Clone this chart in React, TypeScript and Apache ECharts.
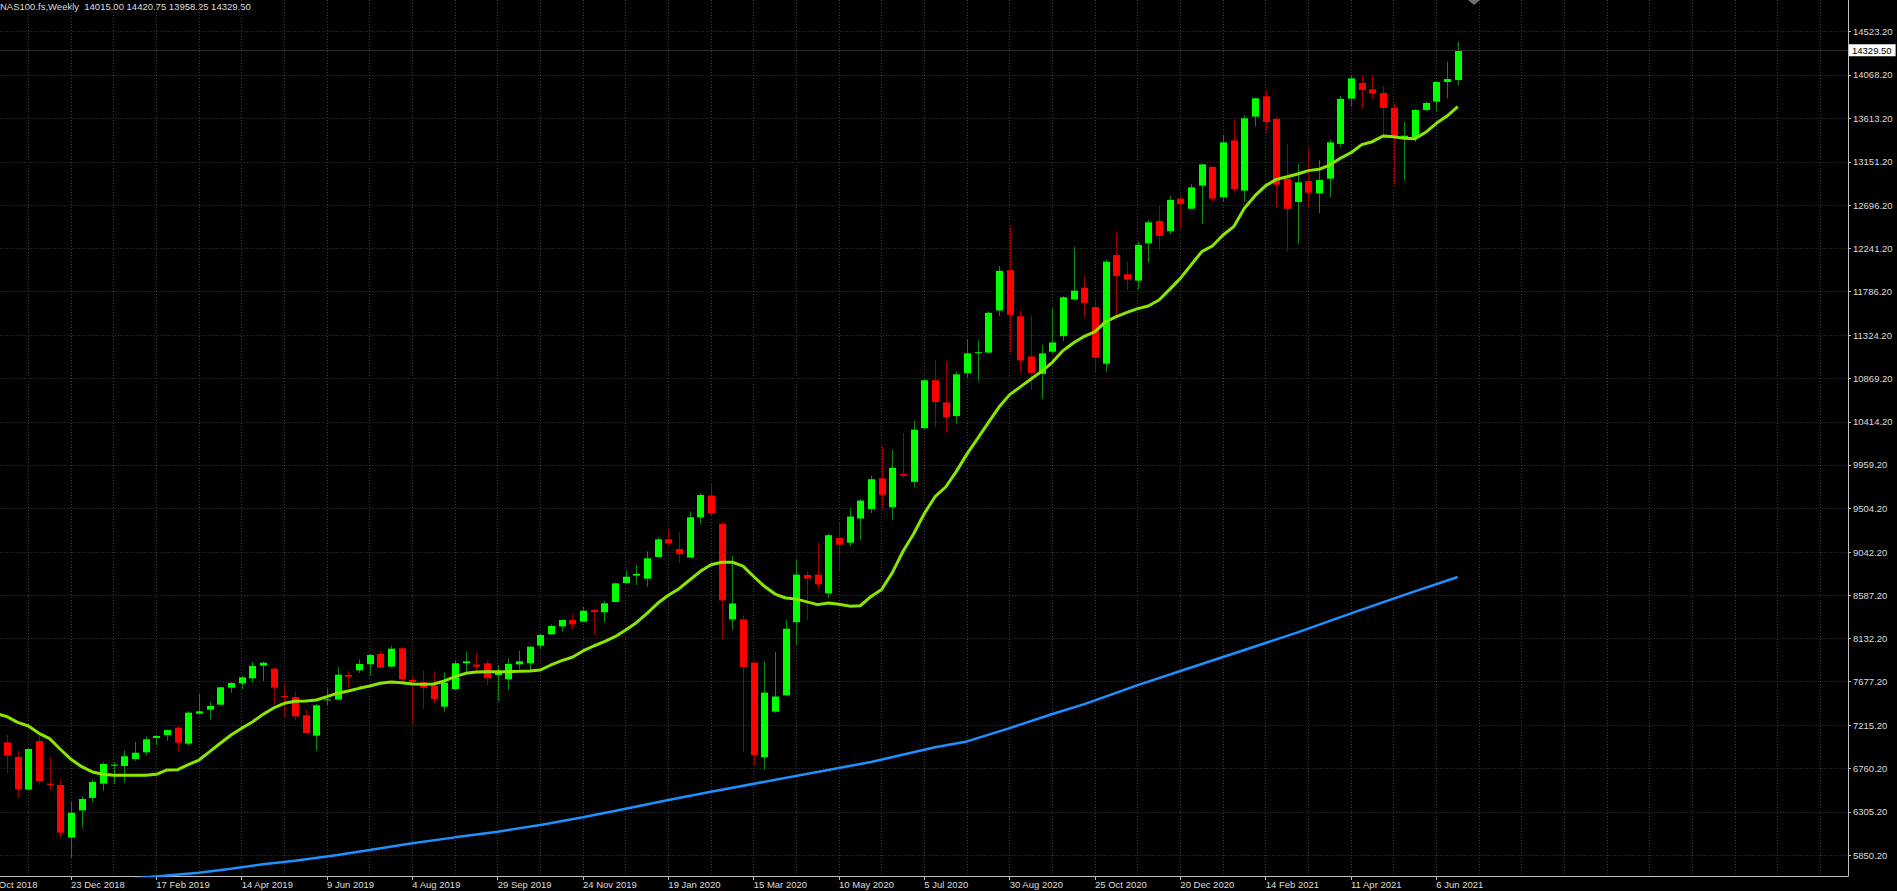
import React, { useEffect, useRef } from "react";
import * as echarts from "echarts";

// ---------- data ----------
const symbolTitle = "NAS100.fs,Weekly";
// week index 0 = week of 28 Oct 2018; x-axis labels every 8 weeks
const labelStep = 8;
const xTickLabels = [
  "28 Oct 2018", "23 Dec 2018", "17 Feb 2019", "14 Apr 2019", "9 Jun 2019", "4 Aug 2019",
  "29 Sep 2019", "24 Nov 2019", "19 Jan 2020", "15 Mar 2020", "10 May 2020", "5 Jul 2020",
  "30 Aug 2020", "25 Oct 2020", "20 Dec 2020", "14 Feb 2021", "11 Apr 2021", "6 Jun 2021",
];
const yTickLabels = [
  "5850.20", "6305.20", "6760.20", "7215.20", "7677.20", "8132.20", "8587.20", "9042.20",
  "9504.20", "9959.20", "10414.20", "10869.20", "11324.20", "11786.20", "12241.20",
  "12696.20", "13151.20", "13613.20", "14068.20", "14523.20",
];

// first candle = week of 11 Nov 2018 (week index 2); rows are [open, high, low, close]
const firstCandleWeek = 2;
const ohlc: number[][] = [
  [7037, 7114, 6711, 6897], [6883, 6946, 6454, 6542], [6539, 6975, 6530, 6967], [7051, 7107, 6591, 6630], [6601, 6883, 6542, 6588],
  [6588, 6640, 6033, 6086], [6033, 6409, 5822, 6296], [6321, 6468, 6138, 6440], [6451, 6647, 6405, 6619], [6602, 6826, 6525, 6809],
  [6791, 6826, 6595, 6802], [6788, 6953, 6612, 6890], [6862, 7041, 6841, 6928], [6932, 7097, 6897, 7069], [7083, 7114, 7009, 7104],
  [7114, 7174, 7055, 7167], [7192, 7216, 6939, 7034], [7023, 7364, 7002, 7350], [7339, 7546, 7332, 7364], [7381, 7459, 7276, 7420],
  [7434, 7624, 7431, 7617], [7613, 7673, 7560, 7662], [7659, 7736, 7599, 7722], [7711, 7887, 7669, 7841], [7845, 7887, 7683, 7876],
  [7813, 7824, 7434, 7613], [7525, 7645, 7297, 7515], [7515, 7571, 7269, 7311], [7322, 7381, 7132, 7136], [7107, 7438, 6946, 7427],
  [7483, 7603, 7427, 7490], [7487, 7831, 7480, 7750], [7747, 7792, 7606, 7729], [7796, 7912, 7768, 7863], [7859, 7971, 7740, 7957],
  [7968, 8003, 7821, 7824], [7835, 8056, 7824, 8024], [8028, 8042, 7677, 7701], [7694, 7747, 7227, 7670], [7670, 7792, 7389, 7613],
  [7634, 7785, 7448, 7494], [7413, 7775, 7361, 7666], [7599, 7901, 7589, 7870], [7870, 7993, 7764, 7891], [7856, 7982, 7782, 7835],
  [7870, 7898, 7641, 7712], [7747, 7852, 7473, 7771], [7701, 7926, 7585, 7863], [7859, 8000, 7806, 7891], [7870, 8049, 7799, 8045],
  [8056, 8182, 8017, 8168], [8175, 8280, 8168, 8263], [8259, 8333, 8203, 8326], [8326, 8386, 8231, 8280], [8308, 8463, 8301, 8424],
  [8431, 8442, 8168, 8410], [8407, 8530, 8298, 8502], [8516, 8719, 8512, 8712], [8716, 8842, 8712, 8782], [8793, 8909, 8695, 8811],
  [8761, 9049, 8677, 8976], [8990, 9197, 8983, 9176], [9176, 9288, 9109, 9134], [9074, 9250, 8923, 9018], [8983, 9471, 8978, 9408],
  [9408, 9660, 9334, 9643], [9637, 9760, 9411, 9448], [9338, 9358, 8119, 8533], [8332, 9001, 8226, 8500], [8332, 8373, 6937, 7832],
  [7877, 7890, 6800, 6904], [6880, 7889, 6750, 7561], [7360, 7987, 7347, 7520], [7532, 8324, 7530, 8234], [8303, 8964, 8065, 8804],
  [8800, 8845, 8324, 8763], [8804, 9141, 8652, 8702], [8607, 9235, 8558, 9219], [9190, 9346, 8845, 9120], [9141, 9506, 9104, 9416],
  [9395, 9600, 9165, 9584], [9494, 9846, 9453, 9809], [9818, 10158, 9494, 9645], [9514, 10113, 9379, 9929], [9863, 10298, 9818, 9846],
  [9781, 10425, 9727, 10331], [10347, 10860, 10339, 10852], [10852, 11061, 10355, 10622], [10618, 11057, 10298, 10462], [10474, 10946, 10396, 10914],
  [10926, 11287, 10877, 11135], [11139, 11275, 10844, 11147], [11143, 11578, 11140, 11562], [11587, 12054, 11529, 12005], [12013, 12473, 11143, 11541],
  [11525, 11587, 10930, 11061], [11102, 11537, 10745, 10930], [10918, 11225, 10655, 11135], [11152, 11611, 11135, 11250], [11316, 11738, 11266, 11726],
  [11702, 12256, 11693, 11796], [11826, 11951, 11510, 11667], [11623, 11697, 10942, 11090], [11026, 12125, 10942, 12101], [12171, 12417, 11521, 11950],
  [11968, 12101, 11802, 11911], [11901, 12312, 11809, 12277], [12294, 12540, 12090, 12515], [12529, 12687, 12224, 12371], [12421, 12796, 12389, 12751],
  [12765, 12786, 12459, 12708], [12659, 12919, 12656, 12884], [12902, 13130, 12498, 13126], [13098, 13112, 12740, 12765], [12779, 13428, 12730, 13358],
  [13379, 13600, 12828, 12867], [12849, 13643, 12730, 13611], [13629, 13829, 13523, 13822], [13843, 13906, 13467, 13572], [13604, 13629, 12663, 12912],
  [12975, 13341, 12210, 12659], [12730, 13130, 12284, 12937], [12951, 13299, 12680, 12828], [12821, 13172, 12610, 12961], [12975, 13390, 12779, 13358],
  [13341, 13846, 13306, 13815], [13818, 14068, 13734, 14032], [13983, 14060, 13706, 13909], [13917, 14068, 13815, 13871], [13878, 13952, 13435, 13720],
  [13723, 13769, 12912, 13421], [13411, 13576, 12955, 13428], [13404, 13709, 13362, 13699], [13699, 13786, 13688, 13773], [13787, 14004, 13688, 13994],
  [13994, 14208, 13822, 14025], [14015, 14420.75, 13958.25, 14329.5],
];

// fast moving average (yellow-green), one value per week starting at week index 1
const maFastStart = 1;
const maFast = [
  7340,
  7308, 7248, 7209, 7132, 7076, 6964, 6858, 6781, 6725, 6700,
  6690, 6690, 6690, 6690, 6700, 6746, 6749, 6802, 6851, 6939,
  7027, 7114, 7185, 7251, 7332, 7399, 7448, 7469, 7473, 7483,
  7518, 7555, 7578, 7606, 7631, 7659, 7673, 7666, 7652, 7649,
  7652, 7684, 7729, 7764, 7778, 7782, 7782, 7782, 7785, 7789,
  7799, 7852, 7898, 7933, 8000, 8052, 8098, 8150, 8221, 8298,
  8396, 8502, 8586, 8656, 8747, 8839, 8908, 8935, 8935, 8894,
  8784, 8681, 8599, 8558, 8546, 8517, 8488, 8504, 8492, 8472,
  8476, 8574, 8648, 8825, 9050, 9235, 9448, 9625, 9727, 9892,
  10076, 10240, 10405, 10569, 10700, 10782, 10864, 10946, 11041, 11164,
  11246, 11315, 11364, 11469, 11522, 11567, 11606, 11634, 11697, 11809,
  11925, 12066, 12206, 12266, 12382, 12470, 12663, 12796, 12902, 12968,
  12996, 13025, 13060, 13074, 13119, 13190, 13249, 13334, 13365, 13425,
  13418, 13400, 13397, 13464, 13558, 13635, 13734,
];

// slow moving average (blue), [week index, value]
const maSlow: [number, number][] = [
  [14, 5605], [20, 5664], [23, 5706], [26, 5752], [29, 5790], [33, 5850], [36, 5903],
  [40, 5973], [44, 6036], [48, 6096], [52, 6166], [56, 6247], [60, 6338], [64, 6430],
  [68, 6517], [83, 6830], [89, 6985], [92, 7047], [96, 7187], [100, 7335], [103, 7440],
  [108, 7640], [113, 7825], [118, 8010], [123, 8195], [128, 8395], [133, 8590], [138, 8779],
];

// ---------- style ----------
const FONT = "'Liberation Sans', Arial, sans-serif";
const FS = 9.5;
const TXT = "#dcdcdc";
const AXIS = "#c0c0c0";
const GRID = "#3a3a3a";
const BULL = "#00ff00";
const BEAR = "#ff0000";
const BULL_WICK = "#0b8a0b";
const BEAR_WICK = "#9a0000";
const FAST_C = "#88e600";
const SLOW_C = "#1e90ff";

const X_MIN = 0;
const X_MAX = 174.59;
const Y_MIN = 5628.97;
const Y_MAX = 14857.6;

export default function App() {
  const ref = useRef<HTMLDivElement>(null);

  useEffect(() => {
    document.body.style.margin = "0";
    document.body.style.background = "#000";
    const chart = echarts.init(ref.current as HTMLDivElement, null, { renderer: "svg" });

    const candles = ohlc.map((r, i) => [firstCandleWeek + i, r[0], r[3], r[2], r[1]]);
    const fast = maFast.map((v, i) => [maFastStart + i, v]);
    const xTickVals = xTickLabels.map((_, k) => k * labelStep);
    const yTickVals = yTickLabels.map(Number);
    const last = ohlc[ohlc.length - 1];
    const title = `${symbolTitle}  ${last.map((v) => v.toFixed(2)).join(" ")}`;
    const lastPrice = last[3];

    const option: any = {
      animation: false,
      backgroundColor: "#000",
      grid: {
        left: -14.333,
        right: 49,
        top: 0,
        bottom: 15,
        containLabel: false,
        outerBoundsMode: "none",
      },
      xAxis: [
        {
          type: "value",
          min: X_MIN,
          max: X_MAX,
          interval: 4,
          axisLine: { show: false, onZero: false },
          axisTick: { show: false },
          axisLabel: { show: false },
          splitLine: { show: true, lineStyle: { color: GRID, type: [1, 2], width: 1 } },
        },
        {
          type: "value",
          position: "bottom",
          min: X_MIN,
          max: X_MAX,
          axisLine: { show: true, onZero: false, lineStyle: { color: AXIS, width: 1 } },
          axisTick: { show: true, length: 4, lineStyle: { color: AXIS }, customValues: xTickVals },
          axisLabel: {
            show: true,
            customValues: xTickVals,
            formatter: (v: number) => xTickLabels[Math.round(v / labelStep)] ?? "",
            align: "left",
            margin: 3,
            color: TXT,
            fontSize: FS,
            fontFamily: FONT,
          },
          splitLine: { show: false },
        },
      ],
      yAxis: {
        type: "value",
        position: "right",
        min: Y_MIN,
        max: Y_MAX,
        axisLine: { show: true, onZero: false, lineStyle: { color: AXIS, width: 1 } },
        axisTick: { show: true, length: 3, lineStyle: { color: AXIS }, customValues: yTickVals },
        axisLabel: {
          show: true,
          customValues: yTickVals,
          formatter: (v: number) => v.toFixed(2),
          margin: 5,
          color: TXT,
          fontSize: FS,
          fontFamily: FONT,
        },
        splitLine: { show: true, lineStyle: { color: GRID, type: [1, 2], width: 1 } },
      },
      graphic: [
        {
          type: "text",
          left: 0,
          top: 1,
          style: { text: title, fill: TXT, fontSize: FS, fontFamily: FONT },
        },
        {
          type: "polygon",
          shape: { points: [[1468, 0], [1480, 0], [1474, 5]] },
          style: { fill: "#6e6e6e" },
        },
      ],
      series: [
        {
          type: "custom",
          name: "candles",
          xAxisIndex: 0,
          yAxisIndex: 0,
          clip: true,
          data: candles,
          encode: { x: 0, y: [1, 2, 3, 4] },
          renderItem: (_params: any, api: any) => {
            const w = api.value(0);
            const o = api.value(1);
            const c = api.value(2);
            const l = api.value(3);
            const h = api.value(4);
            const pO = api.coord([w, o]);
            const pC = api.coord([w, c]);
            const pL = api.coord([w, l]);
            const pH = api.coord([w, h]);
            const x = Math.round(pO[0]) + 0.5;
            const up = c >= o;
            const top = Math.min(pO[1], pC[1]);
            const bot = Math.max(pO[1], pC[1]);
            const bh = Math.max(bot - top, 1);
            return {
              type: "group",
              children: [
                {
                  type: "line",
                  shape: { x1: x, y1: pH[1], x2: x, y2: pL[1] },
                  style: { stroke: up ? BULL_WICK : BEAR_WICK, lineWidth: 1 },
                },
                {
                  type: "rect",
                  shape: { x: x - 3.5, y: top, width: 7, height: bh },
                  style: { fill: up ? BULL : BEAR },
                },
              ],
            };
          },
          markLine: {
            silent: true,
            symbol: ["none", "none"],
            lineStyle: { color: "#2e2e2e", type: "solid", width: 1 },
            label: {
              show: true,
              position: "end",
              distance: 1,
              formatter: () => lastPrice.toFixed(2),
              backgroundColor: "#ffffff",
              color: "#000000",
              padding: [1, 4, 1, 3],
              fontSize: FS,
              fontFamily: FONT,
            },
            emphasis: { disabled: true },
            data: [{ yAxis: lastPrice }],
          },
        },
        {
          type: "line",
          name: "slow",
          xAxisIndex: 0,
          data: maSlow,
          showSymbol: false,
          lineStyle: { color: SLOW_C, width: 2.5 },
          itemStyle: { color: SLOW_C },
          silent: true,
        },
        {
          type: "line",
          name: "fast",
          xAxisIndex: 0,
          data: fast,
          showSymbol: false,
          lineStyle: { color: FAST_C, width: 3 },
          itemStyle: { color: FAST_C },
          silent: true,
        },
      ],
    };

    chart.setOption(option);
    return () => chart.dispose();
  }, []);

  return (
    <div
      ref={ref}
      style={{ position: "fixed", left: 0, top: 0, width: 1897, height: 891, background: "#000" }}
    />
  );
}
